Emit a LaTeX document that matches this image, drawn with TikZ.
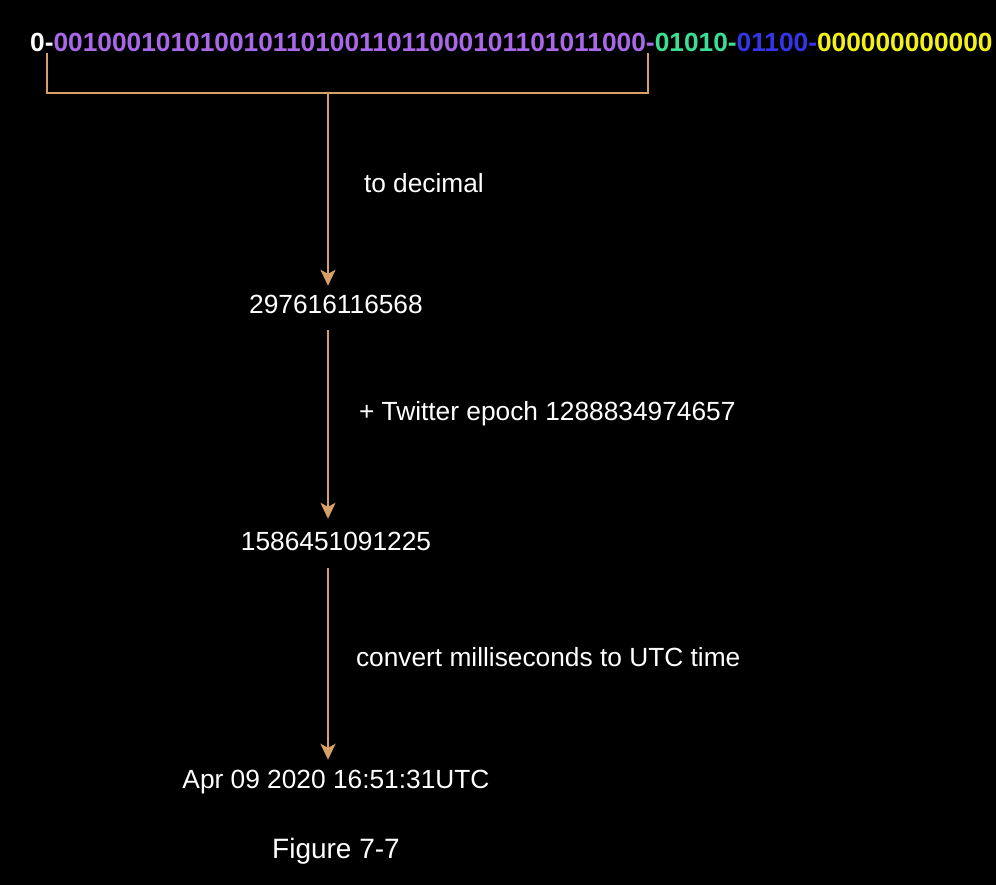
\documentclass[tikz,border=0pt]{standalone}
\usepackage{fontspec}
\setmainfont{Liberation Sans}
\usetikzlibrary{arrows.meta}

\definecolor{linktan}{RGB}{214,160,104}
\definecolor{bitpurple}{RGB}{168,104,232}
\definecolor{bitgreen}{RGB}{60,222,150}
\definecolor{bitblue}{RGB}{52,52,232}
\definecolor{bityellow}{RGB}{242,242,24}

\tikzset{
    txt/.style={text=white, inner sep=0pt, font=\fontsize{26.3}{31}\selectfont},
    num/.style={txt, anchor=base, text height=19pt, text depth=0pt},
    lbl/.style={txt, anchor=base west},
    link/.style={draw=linktan, line width=2pt},
    step arrow/.style={link, -{Stealth[length=16pt, width=15pt, inset=4pt]}}
}

\begin{document}
\begin{tikzpicture}[x=1pt, y=-1pt]
    \fill[black] (0,0) rectangle (996,885);
    \useasboundingbox (0,0) rectangle (996,885);

    % Nodes
    \node[txt, anchor=base west, font=\bfseries\fontsize{26.3}{31}\selectfont] at (30, 52) (bits)
        {0-\textcolor{bitpurple}{00100010101001011010011011000101101011000-}\textcolor{bitgreen}{01010-}\textcolor{bitblue}{01100-}\textcolor{bityellow}{000000000000}};
    \node[num] at (336, 314) (ms) {297616116568};
    \node[num] at (336, 550) (epoch) {1586451091225};
    \node[num] at (336, 788) (utc) {Apr 09 2020 16:51:31UTC};
    \node[txt, anchor=base] at (336, 858) (caption) {\fontsize{28}{33}\selectfont Figure 7-7};

    % Bracket under the timestamp bits
    \coordinate (bl) at (47, 53);
    \coordinate (br) at (648, 53);
    \coordinate (hub) at (328, 93);
    \draw[link] (bl) |- (hub) -| (br);

    % Edges
    \draw[step arrow, shorten >=9pt] (hub) -- (ms.north -| hub)
        node[lbl, pos=0.46, right, xshift=35pt, yshift=3pt] (todec) {to decimal};

    \draw[step arrow, shorten <=16pt, shorten >=12pt] (ms.south -| hub) -- (epoch.north -| hub)
        node[lbl, midway, right, xshift=30pt, yshift=9pt] (addep) {+ Twitter epoch 1288834974657};

    \draw[step arrow, shorten <=18pt, shorten >=9pt] (epoch.south -| hub) -- (utc.north -| hub)
        node[lbl, midway, right, xshift=27pt, yshift=2pt] (conv) {convert milliseconds to UTC time};
\end{tikzpicture}
\end{document}
